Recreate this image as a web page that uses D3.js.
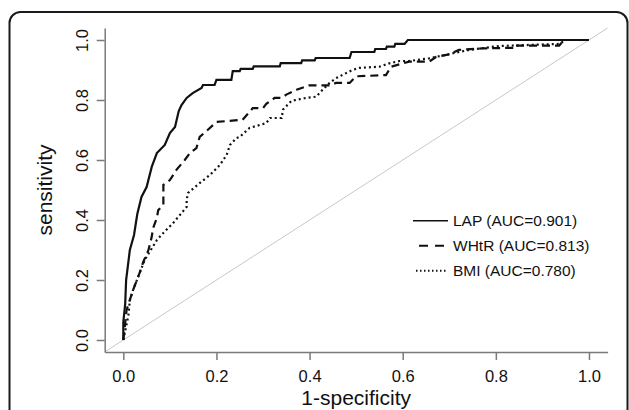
<!DOCTYPE html>
<html>
<head>
<meta charset="utf-8">
<script src="https://cdn.jsdelivr.net/npm/d3@7"></script>
<style>
    body { margin: 0; background: #fff; }
    svg { display: block; font-family: "Liberation Sans", Arial, sans-serif; }
</style>
</head>
<body>
<svg id="roc" width="629" height="410"></svg>
<script>
// ROC points (1-specificity, sensitivity)
const lapFpr = [0, 0, 0.004, 0.006, 0.014, 0.023, 0.030, 0.039, 0.050, 0.061, 0.072, 0.089, 0.100, 0.111, 0.119, 0.125, 0.136, 0.149, 0.168, 0.171, 0.196, 0.200, 0.232, 0.235, 0.250, 0.252, 0.278, 0.280, 0.336, 0.338, 0.382, 0.384, 0.411, 0.413, 0.486, 0.490, 0.539, 0.541, 0.564, 0.566, 0.582, 0.584, 0.604, 0.611, 1];
const lapTpr = [0, 0.06, 0.12, 0.20, 0.30, 0.35, 0.42, 0.477, 0.51, 0.577, 0.623, 0.65, 0.69, 0.71, 0.763, 0.783, 0.807, 0.823, 0.84, 0.85, 0.85, 0.867, 0.867, 0.896, 0.896, 0.904, 0.904, 0.912, 0.912, 0.923, 0.923, 0.932, 0.932, 0.94, 0.94, 0.96, 0.96, 0.97, 0.97, 0.978, 0.978, 0.987, 0.987, 1, 1];

const whtrFpr = [0, 0.007, 0.021, 0.036, 0.043, 0.054, 0.061, 0.064, 0.072, 0.075, 0.086, 0.086, 0.100, 0.114, 0.132, 0.143, 0.157, 0.164, 0.181, 0.200, 0.256, 0.278, 0.300, 0.307, 0.325, 0.340, 0.350, 0.372, 0.400, 0.443, 0.457, 0.486, 0.500, 0.564, 0.575, 0.614, 0.657, 0.672, 0.700, 0.721, 0.771, 0.835, 0.835, 0.936, 0.946, 1];
const whtrTpr = [0, 0.10, 0.167, 0.228, 0.261, 0.30, 0.344, 0.373, 0.407, 0.433, 0.45, 0.517, 0.533, 0.567, 0.60, 0.623, 0.64, 0.677, 0.70, 0.727, 0.734, 0.773, 0.773, 0.787, 0.807, 0.807, 0.818, 0.834, 0.849, 0.849, 0.857, 0.857, 0.879, 0.883, 0.911, 0.928, 0.928, 0.944, 0.952, 0.967, 0.972, 0.974, 0.981, 0.981, 1, 1];

const bmiFpr = [0, 0.011, 0.014, 0.021, 0.046, 0.072, 0.086, 0.107, 0.125, 0.136, 0.136, 0.139, 0.164, 0.186, 0.207, 0.222, 0.229, 0.243, 0.250, 0.271, 0.307, 0.315, 0.340, 0.343, 0.361, 0.393, 0.414, 0.428, 0.443, 0.457, 0.479, 0.492, 0.507, 0.550, 0.571, 0.593, 0.614, 0.657, 0.743, 0.807, 0.936, 0.950, 1];
const bmiTpr = [0, 0.083, 0.133, 0.167, 0.267, 0.333, 0.357, 0.39, 0.423, 0.444, 0.467, 0.49, 0.523, 0.55, 0.583, 0.617, 0.65, 0.673, 0.677, 0.707, 0.723, 0.74, 0.74, 0.768, 0.797, 0.807, 0.811, 0.834, 0.857, 0.873, 0.89, 0.90, 0.907, 0.911, 0.922, 0.93, 0.93, 0.939, 0.967, 0.98, 0.987, 1, 1];

const seriesNames = ["LAP (AUC=0.901)", "WHtR (AUC=0.813)", "BMI (AUC=0.780)"];
const tickValues = [0, 0.2, 0.4, 0.6, 0.8, 1.0];

const series = [
    { name: seriesNames[0], fpr: lapFpr, tpr: lapTpr, dash: null, key: [413, 448], keyDash: null },
    { name: seriesNames[1], fpr: whtrFpr, tpr: whtrTpr, dash: "8,5", key: [419, 444], keyDash: "9,7" },
    { name: seriesNames[2], fpr: bmiFpr, tpr: bmiTpr, dash: "2,3", key: [416, 447], keyDash: "1.5,2.5" }
];

const svg = d3.select("#roc");

// rounded frame around the figure
svg.append("rect")
    .attr("x", 9.5)
    .attr("y", 12)
    .attr("width", 618)
    .attr("height", 420)
    .attr("rx", 11)
    .attr("fill", "none")
    .attr("stroke", "#1a1a1a")
    .attr("stroke-width", 2);

const xScale = d3.scaleLinear().domain([-0.04, 1.04]).range([104.7, 607.6]);
const yScale = d3.scaleLinear().domain([-0.04, 1.04]).range([352, 28]);

const axisColor = "#7a7a7a";

// reference diagonal
svg.append("line")
    .attr("x1", xScale(-0.04)).attr("y1", yScale(-0.04))
    .attr("x2", xScale(1.04)).attr("y2", yScale(1.04))
    .attr("stroke", "#c8c8c8")
    .attr("stroke-width", 1);

const xAxis = d3.axisBottom(xScale)
    .tickValues(tickValues)
    .tickFormat(d3.format(".1f"))
    .tickSize(8)
    .tickSizeOuter(0);
const yAxis = d3.axisLeft(yScale)
    .tickValues(tickValues)
    .tickFormat(d3.format(".1f"))
    .tickSize(8)
    .tickSizeOuter(0);

const xAxisG = svg.append("g")
    .attr("transform", `translate(0, ${yScale(-0.04)})`)
    .call(xAxis);
const yAxisG = svg.append("g")
    .attr("transform", `translate(${xScale(-0.04)}, 0)`)
    .call(yAxis);

svg.selectAll(".domain, .tick line")
    .attr("stroke", axisColor)
    .attr("stroke-width", 1.5);

xAxisG.selectAll("text")
    .attr("y", 30)
    .attr("dy", 0)
    .attr("fill", "#111")
    .attr("font-size", 16.5)
    .attr("font-family", "Liberation Sans, Arial, sans-serif");

yAxisG.selectAll("text")
    .attr("transform", "rotate(-90)")
    .attr("x", 0)
    .attr("y", -16.3)
    .attr("dy", 0)
    .attr("text-anchor", "middle")
    .attr("fill", "#111")
    .attr("font-size", 16.5)
    .attr("font-family", "Liberation Sans, Arial, sans-serif");

// axis titles
svg.append("text")
    .attr("x", (xScale(-0.04) + xScale(1.04)) / 2)
    .attr("y", 405)
    .attr("text-anchor", "middle")
    .attr("font-size", 21)
    .attr("fill", "#111")
    .text("1-specificity");

svg.append("text")
    .attr("transform", `translate(52, ${(yScale(-0.04) + yScale(1.04)) / 2}) rotate(-90)`)
    .attr("text-anchor", "middle")
    .attr("font-size", 21)
    .attr("fill", "#111")
    .text("sensitivity");

// curves
const line = d3.line()
    .x(d => xScale(d[0]))
    .y(d => yScale(d[1]));

series.forEach(s => {
    svg.append("path")
        .datum(d3.zip(s.fpr, s.tpr))
        .attr("d", line)
        .attr("fill", "none")
        .attr("stroke", "#111")
        .attr("stroke-width", 2.2)
        .attr("stroke-dasharray", s.dash);
});

// legend
const legend = svg.append("g");
series.forEach((s, i) => {
    const y = 220.7 + i * 25;
    legend.append("line")
        .attr("x1", s.key[0]).attr("x2", s.key[1])
        .attr("y1", y).attr("y2", y)
        .attr("stroke", "#111")
        .attr("stroke-width", s.keyDash ? 2 : 1.6)
        .attr("stroke-dasharray", s.keyDash);
    legend.append("text")
        .attr("x", 453)
        .attr("y", y + 5.4)
        .attr("font-size", 15.5)
        .attr("fill", "#111")
        .text(s.name);
});
</script>
</body>
</html>
